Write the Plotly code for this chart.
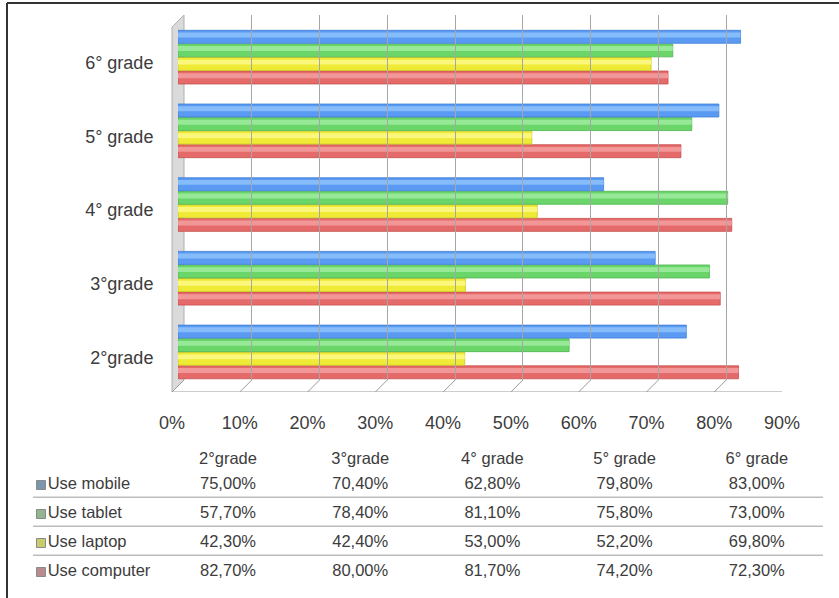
import plotly.graph_objects as go

# ---- data -------------------------------------------------------------
grades = ["2°grade", "3°grade", "4° grade", "5° grade", "6° grade"]
series = ["Use mobile", "Use tablet", "Use laptop", "Use computer"]
use_mobile = [75.0, 70.4, 62.8, 79.8, 83.0]
use_tablet = [57.7, 78.4, 81.1, 75.8, 73.0]
use_laptop = [42.3, 42.4, 53.0, 52.2, 69.8]
use_computer = [82.7, 80.0, 81.7, 74.2, 72.3]
axis_ticks = [0, 10, 20, 30, 40, 50, 60, 70, 80, 90]
axis_labels = [f"{v}%" for v in axis_ticks]

values = {
    "Use mobile": use_mobile,
    "Use tablet": use_tablet,
    "Use laptop": use_laptop,
    "Use computer": use_computer,
}

# ---- styling ------------------------------------------------------------
W, H = 839, 598
FONT = "Liberation Sans, Arial, sans-serif"
TXT = "#3c3c3c"

# base colour, highlight colour, outline colour
palette = {
    "Use mobile": ("#5A9AF3", "#86BCFA", "#3F7FD6"),
    "Use tablet": ("#6AD66A", "#97E897", "#4CB44C"),
    "Use laptop": ("#EEEA36", "#FAF77C", "#CCC61C"),
    "Use computer": ("#E56A6A", "#F29797", "#C64E4E"),
}
key_colors = {
    "Use mobile": "#7C97AD",
    "Use tablet": "#92B592",
    "Use laptop": "#C9CC6A",
    "Use computer": "#B98A8E",
}


def fx(p):
    return p / W


def fy(p):
    return 1 - p / H


# bar layout along the category axis (units of one category slot)
BAR_W = 0.176
PITCH = 0.184
stack_order = ["Use computer", "Use laptop", "Use tablet", "Use mobile"]  # bottom -> top
ypos = list(range(len(grades)))

fig = go.Figure()

for k, name in enumerate(stack_order):
    base, light, edge = palette[name]
    off = -2 * PITCH + k * PITCH
    fig.add_trace(go.Bar(
        x=values[name], y=ypos, orientation="h", name=name,
        offset=off, width=BAR_W,
        marker=dict(color=base, line=dict(color=edge, width=0.8)),
        showlegend=False, hoverinfo="x+name",
    ))
    # tube highlight along the upper part of each bar
    fig.add_trace(go.Bar(
        x=values[name], y=ypos, orientation="h", name=name,
        offset=off + BAR_W * 0.45, width=BAR_W * 0.38,
        marker=dict(color=light, line=dict(width=0)),
        showlegend=False, hoverinfo="skip",
    ))

# back wall grid subplot
fig.add_trace(go.Scatter(x=[], y=[], xaxis="x2", yaxis="y2",
                         showlegend=False, hoverinfo="skip"))

# floor of the 3D box (front edge + slanted ticks), drawn on the label axis
shear = 12 / 6.78
fx_pts, fy_pts = [], []
for v in axis_ticks:
    fx_pts += [v, v + shear, None]
    fy_pts += [0, 1, None]
fx_pts += [0, axis_ticks[-1], axis_ticks[-1] + shear]
fy_pts += [0, 0, 1]
fig.add_trace(go.Scatter(
    x=fx_pts, y=fy_pts, xaxis="x3", yaxis="y3", mode="lines",
    line=dict(color="#9a9a9a", width=1), cliponaxis=False,
    showlegend=False, hoverinfo="skip",
))

# ---- data table below the chart ----------------------------------------
COL0, COLW = 228, 132.2     # pixel centre of first column, column spacing
ROW1, ROWH = 485, 29        # pixel centre of first row, row spacing


def tcol(p):
    return (p - COL0) / COLW


def trow(p):
    return 1 + (p - ROW1) / ROWH


col_idx = list(range(len(grades)))
fig.add_trace(go.Scatter(
    x=col_idx, y=[trow(460)] * len(grades), text=grades, mode="text",
    xaxis="x4", yaxis="y4", textposition="middle center",
    textfont=dict(family=FONT, size=16.5, color=TXT),
    showlegend=False, hoverinfo="skip",
))
for r, name in enumerate(series, start=1):
    fig.add_trace(go.Scatter(
        x=col_idx, y=[r] * len(grades),
        text=[f"{v:.2f}".replace(".", ",") + "%" for v in values[name]],
        mode="text", xaxis="x4", yaxis="y4", textposition="middle center",
        textfont=dict(family=FONT, size=16.5, color=TXT),
        showlegend=False, hoverinfo="skip",
    ))
    fig.add_trace(go.Scatter(
        x=[tcol(41)], y=[r], text=[name], mode="markers+text",
        xaxis="x4", yaxis="y4", textposition="middle right",
        marker=dict(symbol="square", size=9, color=key_colors[name],
                    line=dict(color="#8a8a8a", width=1)),
        textfont=dict(family=FONT, size=16.5, color=TXT),
        cliponaxis=False, showlegend=False, hoverinfo="skip",
    ))

shapes = []
for r in range(1, len(series)):
    shapes.append(dict(type="line", xref="x4", yref="y4",
                       x0=tcol(33), x1=tcol(823), y0=r + 0.42, y1=r + 0.42,
                       line=dict(color="#9a9a9a", width=1)))

# left side wall of the 3D box
wall = (f"M {fx(172)},{fy(27)} L {fx(184)},{fy(15)} L {fx(184)},{fy(380)} "
        f"L {fx(172)},{fy(392)} Z")
shapes.append(dict(type="path", xref="paper", yref="paper", path=wall,
                   fillcolor="#dadada", line=dict(color="#b0b0b0", width=1),
                   layer="below"))

# outer frame (left and top edges)
shapes.append(dict(type="line", xref="paper", yref="paper",
                   x0=fx(7), x1=fx(7), y0=fy(3), y1=fy(598),
                   line=dict(color="#333333", width=2)))
shapes.append(dict(type="line", xref="paper", yref="paper",
                   x0=fx(7), x1=fx(839), y0=fy(3), y1=fy(3),
                   line=dict(color="#333333", width=2)))

ROW0 = trow(0)
ROWN = trow(H)

fig.update_layout(
    width=W, height=H,
    margin=dict(l=0, r=0, t=0, b=0, autoexpand=False),
    paper_bgcolor="white", plot_bgcolor="rgba(0,0,0,0)",
    barmode="overlay",
    font=dict(family=FONT, color=TXT),
    shapes=shapes,
    # bars
    xaxis=dict(domain=[fx(178), fx(788)], range=[0, 90], anchor="y",
               showgrid=False, zeroline=False, showticklabels=False,
               showline=False, automargin=False),
    yaxis=dict(domain=[fy(388.5), fy(20)], range=[-0.5, 4.5], anchor="x",
               tickvals=[i - 0.08 for i in ypos], ticktext=grades,
               ticks="outside", ticklen=20, tickcolor="rgba(0,0,0,0)",
               tickfont=dict(family=FONT, size=18, color=TXT),
               showgrid=False, zeroline=False, showline=False,
               automargin=False),
    # back wall with vertical grid
    xaxis2=dict(domain=[fx(184), fx(794)], range=[0, 90], anchor="y2",
                tickvals=axis_ticks, showgrid=True, gridcolor="#a6a6a6",
                gridwidth=1, showticklabels=False, zeroline=False,
                showline=False, automargin=False),
    yaxis2=dict(domain=[fy(380), fy(15)], range=[0, 1], anchor="x2",
                visible=False, automargin=False),
    # front edge with percentage labels
    xaxis3=dict(domain=[fx(172), fx(782)], range=[0, 90], anchor="y3",
                tickvals=axis_ticks, ticktext=axis_labels, ticks="outside",
                ticklen=14, tickcolor="rgba(0,0,0,0)",
                tickfont=dict(family=FONT, size=18, color=TXT),
                showgrid=False, zeroline=False, showline=False,
                automargin=False),
    yaxis3=dict(domain=[fy(392), fy(380)], range=[0, 1], anchor="x3",
                visible=False, automargin=False),
    # table
    xaxis4=dict(domain=[0, 1], range=[tcol(0), tcol(W)], anchor="y4",
                visible=False, automargin=False),
    yaxis4=dict(domain=[0, 1], range=[ROWN, ROW0], anchor="x4",
                visible=False, automargin=False),
)

fig.write_html("out.html")
